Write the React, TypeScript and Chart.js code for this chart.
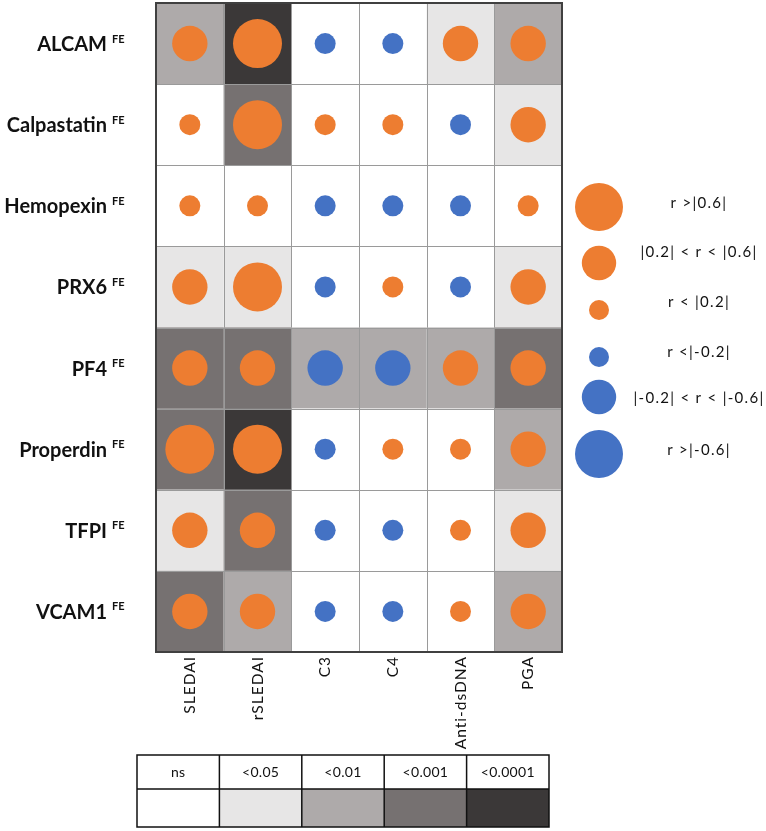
import React, { useEffect, useRef } from "react";
import { Chart, registerables } from "chart.js";
Chart.register(...registerables);

const rowLabels = ["ALCAM", "Calpastatin", "Hemopexin", "PRX6", "PF4", "Properdin", "TFPI", "VCAM1"];
const rowSuffix = "FE";
const colLabels = ["SLEDAI", "rSLEDAI", "C3", "C4", "Anti-dsDNA", "PGA"];
const pLabels = ["ns", "<0.05", "<0.01", "<0.001", "<0.0001"];
const legendLabels = ["r >|0.6|", "|0.2| < r < |0.6|", "r < |0.2|", "r <|-0.2|", "|-0.2| < r < |-0.6|", "r >|-0.6|"];
const legendValues = [0.7, 0.4, 0.1, -0.1, -0.4, -0.7];

// estimated correlation per row (SLEDAI, rSLEDAI, C3, C4, Anti-dsDNA, PGA)
const rALCAM = [0.42, 0.66, -0.12, -0.12, 0.4, 0.42];
const rCalpastatin = [0.12, 0.64, 0.13, 0.12, -0.12, 0.42];
const rHemopexin = [0.12, 0.12, -0.13, -0.13, -0.12, 0.13];
const rPRX6 = [0.42, 0.63, -0.11, 0.12, -0.11, 0.41];
const rPF4 = [0.43, 0.43, -0.41, -0.41, 0.41, 0.42];
const rProperdin = [0.64, 0.64, -0.12, 0.12, 0.11, 0.41];
const rTFPI = [0.42, 0.43, -0.12, -0.12, 0.11, 0.42];
const rVCAM1 = [0.43, 0.41, -0.12, -0.12, 0.11, 0.41];

// p-value class per row: 0 ns, 1 <0.05, 2 <0.01, 3 <0.001, 4 <0.0001
const pALCAM = [2, 4, 0, 0, 1, 2];
const pCalpastatin = [0, 3, 0, 0, 0, 1];
const pHemopexin = [0, 0, 0, 0, 0, 0];
const pPRX6 = [1, 1, 0, 0, 0, 1];
const pPF4 = [3, 3, 2, 2, 2, 3];
const pProperdin = [3, 4, 0, 0, 0, 2];
const pTFPI = [1, 3, 0, 0, 0, 1];
const pVCAM1 = [3, 2, 0, 0, 0, 2];

const corrRows = [rALCAM, rCalpastatin, rHemopexin, rPRX6, rPF4, rProperdin, rTFPI, rVCAM1];
const pRows = [pALCAM, pCalpastatin, pHemopexin, pPRX6, pPF4, pProperdin, pTFPI, pVCAM1];

const ORANGE = "#ED7D31";
const BLUE = "#4472C4";
const SHADES = ["#ffffff", "#e7e6e6", "#aeaaaa", "#767171", "#3b3838"];

function radiusFor(v: number) {
  const a = Math.abs(v);
  if (a > 0.6) return 24.5;
  if (a > 0.2) return 17.7;
  return 10.5;
}

const matrixPlugin = {
  id: "matrix",
  beforeDatasetsDraw(chart: any) {
    const { ctx, chartArea, scales } = chart;
    const x = scales.x, y = scales.y;
    ctx.save();
    pRows.forEach((row, ri) => {
      row.forEach((p, ci) => {
        const x0 = x.getPixelForValue(ci), x1 = x.getPixelForValue(ci + 1);
        const y0 = y.getPixelForValue(ri), y1 = y.getPixelForValue(ri + 1);
        ctx.fillStyle = SHADES[p];
        ctx.fillRect(x0, y0, x1 - x0, y1 - y0);
      });
    });
    ctx.strokeStyle = "#9a9a9a";
    ctx.lineWidth = 1;
    for (let ci = 1; ci < colLabels.length; ci++) {
      const px = Math.round(x.getPixelForValue(ci)) + 0.5;
      ctx.beginPath();
      ctx.moveTo(px, chartArea.top);
      ctx.lineTo(px, chartArea.bottom);
      ctx.stroke();
    }
    for (let ri = 1; ri < rowLabels.length; ri++) {
      const py = Math.round(y.getPixelForValue(ri)) + 0.5;
      ctx.beginPath();
      ctx.moveTo(chartArea.left, py);
      ctx.lineTo(chartArea.right, py);
      ctx.stroke();
    }
    ctx.strokeStyle = "#404040";
    ctx.lineWidth = 2;
    ctx.strokeRect(chartArea.left, chartArea.top, chartArea.right - chartArea.left, chartArea.bottom - chartArea.top);
    ctx.restore();
  },
  afterDraw(chart: any) {
    const { ctx, chartArea, scales } = chart;
    const x = scales.x, y = scales.y;
    ctx.save();
    // row labels
    rowLabels.forEach((lab, ri) => {
      const cy = y.getPixelForValue(ri + 0.5);
      ctx.fillStyle = "#111";
      ctx.font = "bold 20px Lato";
      ctx.textAlign = "right";
      ctx.textBaseline = "alphabetic";
      ctx.fillText(lab, chartArea.left - 49, cy + 7.5);
      ctx.font = "bold 11px Lato";
      ctx.textAlign = "left";
      ctx.fillText(rowSuffix, chartArea.left - 44, cy - 1);
    });
    // column labels
    (ctx as any).letterSpacing = "1px";
    colLabels.forEach((lab, ci) => {
      const cx = x.getPixelForValue(ci + 0.5);
      ctx.save();
      ctx.translate(cx, chartArea.bottom + 4);
      ctx.rotate(-Math.PI / 2);
      ctx.font = "15.5px Lato";
      ctx.fillStyle = "#111";
      ctx.textAlign = "right";
      ctx.textBaseline = "middle";
      ctx.fillText(lab, 0, 0);
      ctx.restore();
    });
    // legend
    (ctx as any).letterSpacing = "1.3px";
    const legendY = [207, 263, 310, 357, 397, 454];
    const textY = [203, 252, 302, 352, 398, 450];
    legendValues.forEach((v, i) => {
      ctx.beginPath();
      ctx.fillStyle = v >= 0 ? ORANGE : BLUE;
      ctx.arc(chartArea.right + 37, legendY[i], radiusFor(v) - 0.5, 0, Math.PI * 2);
      ctx.fill();
      ctx.fillStyle = "#111";
      ctx.font = "15px Lato";
      ctx.textAlign = "center";
      ctx.textBaseline = "middle";
      ctx.fillText(legendLabels[i], chartArea.right + 137, textY[i]);
    });
    // p-value table
    (ctx as any).letterSpacing = "0.3px";
    const tl = 137, tt = 755, cw = 82.4, h1 = 34, h2 = 38;
    pLabels.forEach((lab, i) => {
      ctx.fillStyle = SHADES[i];
      ctx.fillRect(tl + i * cw, tt + h1, cw, h2);
      ctx.fillStyle = "#111";
      ctx.font = "14px Lato";
      ctx.textAlign = "center";
      ctx.textBaseline = "middle";
      ctx.fillText(lab, tl + (i + 0.5) * cw, tt + h1 / 2);
    });
    ctx.strokeStyle = "#111";
    ctx.lineWidth = 1.5;
    ctx.strokeRect(tl, tt, cw * pLabels.length, h1 + h2);
    ctx.beginPath();
    ctx.moveTo(tl, tt + h1);
    ctx.lineTo(tl + cw * pLabels.length, tt + h1);
    for (let i = 1; i < pLabels.length; i++) {
      ctx.moveTo(tl + i * cw, tt);
      ctx.lineTo(tl + i * cw, tt + h1 + h2);
    }
    ctx.stroke();
    ctx.restore();
  },
};

export default function App() {
  const ref = useRef<HTMLCanvasElement>(null);
  useEffect(() => {
    if (!ref.current) return;
    const points: any[] = [];
    corrRows.forEach((row, ri) => {
      row.forEach((v, ci) => {
        points.push({ x: ci + 0.5, y: ri + 0.5, r: radiusFor(v), v });
      });
    });
    const chart = new Chart(ref.current, {
      type: "bubble",
      data: {
        datasets: [
          {
            label: "correlation",
            data: points,
            backgroundColor: (c: any) => (c.raw && c.raw.v < 0 ? BLUE : ORANGE),
            borderWidth: 0,
            clip: false as any,
          },
        ],
      },
      options: {
        responsive: false,
        animation: false,
        devicePixelRatio: 1,
        layout: { autoPadding: false, padding: { left: 156, right: 204, top: 3, bottom: 179 } },
        scales: {
          x: { type: "linear", min: 0, max: colLabels.length, display: false },
          y: { type: "linear", min: 0, max: rowLabels.length, reverse: true, display: false },
        },
        plugins: { legend: { display: false }, tooltip: { enabled: false } },
      },
      plugins: [matrixPlugin],
    });
    return () => chart.destroy();
  }, []);
  return (
    <div style={{ position: "absolute", left: 0, top: 0, width: 766, height: 831, background: "#fff" }}>
      <canvas ref={ref} width={766} height={831} style={{ display: "block" }} />
    </div>
  );
}
